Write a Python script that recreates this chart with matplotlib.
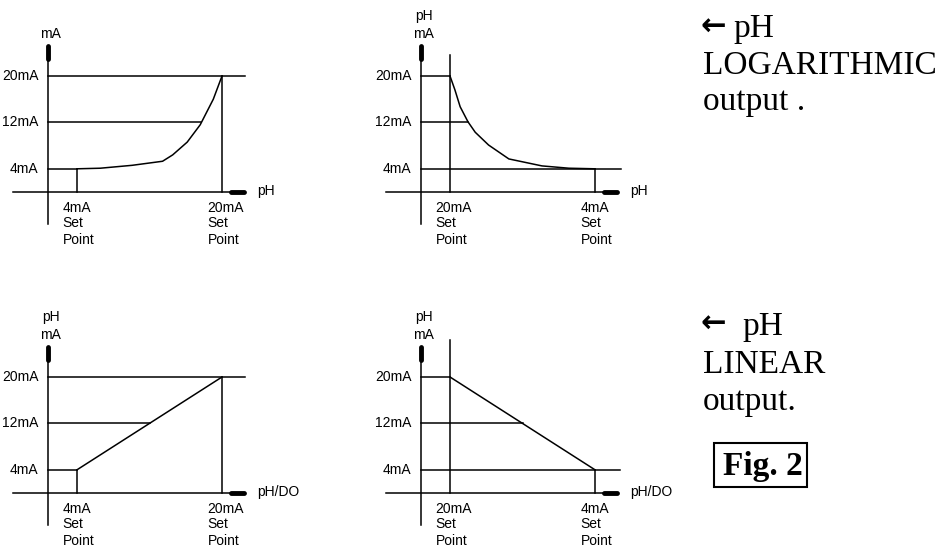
import matplotlib.pyplot as plt
import numpy as np
from matplotlib.patches import Rectangle

# current levels shown on every diagram
ma_levels = [4, 12, 20]
ma_labels = ['4mA', '12mA', '20mA']

# set points on the pH axis (left / right)
sp_low, sp_high = 1.0, 6.0

# logarithmic curves (x in pH units, y in mA)
log_up_x = [1.0, 1.8, 2.9, 3.95, 4.3, 4.8, 5.25, 5.7, 6.0]
log_up_y = [4.0, 4.1, 4.6, 5.3, 6.4, 8.6, 11.6, 16.0, 20.0]
log_down_x = [1.0, 1.17, 1.35, 1.62, 1.87, 2.33, 3.03, 4.17, 5.1, 6.0]
log_down_y = [20.0, 17.6, 14.7, 12.1, 10.3, 8.1, 5.7, 4.5, 4.1, 4.0]

# linear lines
lin_up_x = [sp_low, sp_high]
lin_up_y = [4, 20]
lin_down_x = [sp_low, sp_high]
lin_down_y = [20, 4]

W, H = 947, 552
PX, PY = 29.0, 5.8   # pixels per pH unit / per mA

small = dict(family=['Liberation Sans', 'DejaVu Sans'], fontsize=10, color='black')
serif = ['Liberation Serif', 'DejaVu Serif']
LW = 1.1

fig = plt.figure(figsize=(W / 100, H / 100), dpi=100)


def make_panel(ox, oy):
    # one transparent axes over the whole figure, origin at pixel (ox, oy)
    ax = fig.add_axes([0, 0, 1, 1])
    ax.set_xlim(-ox / PX, (W - ox) / PX)
    ax.set_ylim((oy - H) / PY, oy / PY)
    ax.set_axis_off()
    ax.patch.set_alpha(0)
    return ax


def draw_axes(ax, ylab, xlab):
    k = dict(color='black', lw=LW)
    ax.plot([0, 0], [-5.5, 23.5], **k)
    ax.plot([0, 0], [23.0, 25.2], color='black', lw=3.5, solid_capstyle='round')
    ax.plot([-1.2, 6.8], [0, 0], **k)
    ax.plot([6.3, 6.75], [0, 0], color='black', lw=3.5, solid_capstyle='round')
    for i, t in enumerate(ylab):
        ax.text(0.1, 27.3 + i * 3.1, t, ha='center', va='center', **small)
    ax.text(7.2, 0.1, xlab, ha='left', va='center', **small)
    for lvl, lab in zip(ma_levels, ma_labels):
        ax.text(-0.33, lvl, lab, ha='right', va='center', **small)


def setpoint_labels(ax, first, second):
    for x, top in [(sp_low, first), (sp_high, second)]:
        for y, t in zip([-2.8, -5.3, -8.2], [top, 'Set', 'Point']):
            ax.text(x - 0.5, y, t, ha='left', va='center', **small)


k = dict(color='black', lw=LW)

# top left: logarithmic rising
ax = make_panel(48, 192)
draw_axes(ax, ['mA'], 'pH')
setpoint_labels(ax, '4mA', '20mA')
ax.plot([0, 6.8], [20, 20], **k)
ax.plot([0, np.interp(12, log_up_y, log_up_x)], [12, 12], **k)
ax.plot([0, sp_low], [4, 4], **k)
ax.plot([sp_low, sp_low], [0, 4], **k)
ax.plot([sp_high, sp_high], [0, 20], **k)
ax.plot(log_up_x, log_up_y, **k)

# top right: logarithmic falling
ax = make_panel(421, 192)
draw_axes(ax, ['mA', 'pH'], 'pH')
setpoint_labels(ax, '20mA', '4mA')
ax.plot([0, sp_low], [20, 20], **k)
ax.plot([0, np.interp(12, log_down_y[::-1], log_down_x[::-1])], [12, 12], **k)
ax.plot([0, 6.9], [4, 4], **k)
ax.plot([sp_low, sp_low], [0, 23.6], **k)
ax.plot([sp_high, sp_high], [0, 4], **k)
ax.plot(log_down_x, log_down_y, **k)

# bottom left: linear rising
ax = make_panel(48, 493)
draw_axes(ax, ['mA', 'pH'], 'pH/DO')
setpoint_labels(ax, '4mA', '20mA')
ax.plot([0, 6.8], [20, 20], **k)
ax.plot([0, np.interp(12, lin_up_y, lin_up_x)], [12, 12], **k)
ax.plot([0, sp_low], [4, 4], **k)
ax.plot([sp_low, sp_low], [0, 4], **k)
ax.plot([sp_high, sp_high], [0, 20], **k)
ax.plot(lin_up_x, lin_up_y, **k)

# bottom right: linear falling
ax = make_panel(421, 493)
draw_axes(ax, ['mA', 'pH'], 'pH/DO')
setpoint_labels(ax, '20mA', '4mA')
ax.plot([0, sp_low], [20, 20], **k)
ax.plot([0, np.interp(12, lin_down_y[::-1], lin_down_x[::-1])], [12, 12], **k)
ax.plot([0, 6.85], [4, 4], **k)
ax.plot([sp_low, sp_low], [0, 26.4], **k)
ax.plot([sp_high, sp_high], [0, 4], **k)
ax.plot(lin_down_x, lin_down_y, **k)


# right-hand notes
def note(x, y, s, **kw):
    fig.text(x / W, 1 - y / H, s, ha='left', va='baseline', family=serif, fontsize=24, **kw)


def arrow(x, y):
    fig.text(x / W, 1 - y / H, '\u2190', ha='left', va='center', family='DejaVu Sans',
             fontsize=22, fontweight='bold')


arrow(700, 27)
note(733, 37, 'pH')
note(703, 74, 'LOGARITHMIC')
note(703, 110, 'output .')
arrow(700, 324)
note(742, 335, 'pH')
note(703, 373, 'LINEAR')
note(703, 410, 'output.')
note(723, 475, 'Fig. 2', fontweight='bold')
fig.patches.append(Rectangle((714 / W, 1 - 487 / H), 93 / W, 44 / H, transform=fig.transFigure,
                             fill=False, edgecolor='black', lw=1.5))

fig.savefig('out.png', dpi=100)
